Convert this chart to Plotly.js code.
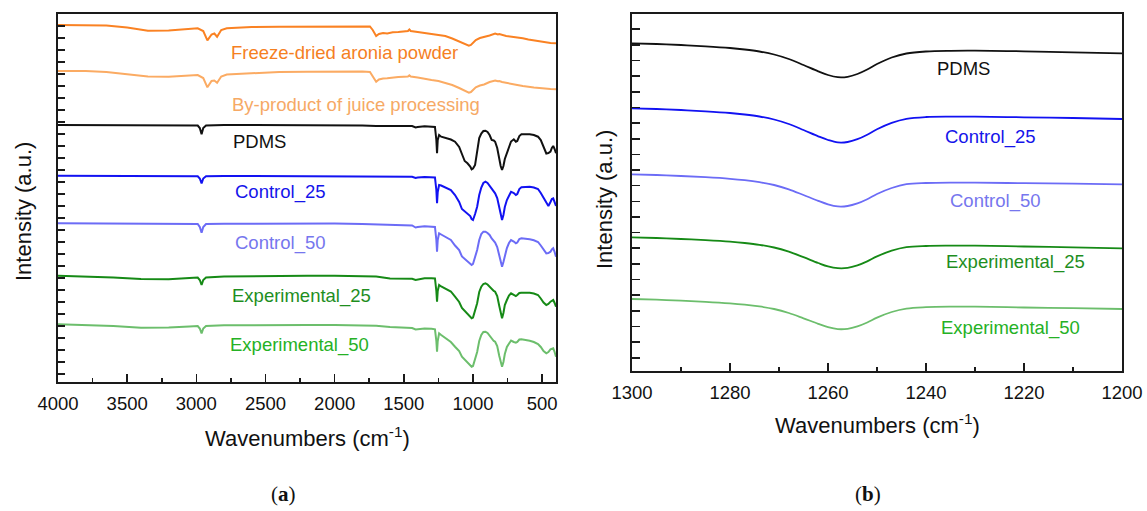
<!DOCTYPE html>
<html><head><meta charset="utf-8">
<script src="https://cdn.plot.ly/plotly-3.0.1.min.js"></script>
<style>html,body{margin:0;padding:0;background:#fff;} #chart{width:1147px;height:511px;}</style>
</head><body><div id="chart"></div>
<script>
// ---------- Panel (a): full FTIR spectra (intensity in arbitrary units, offset stacked) ----------
const wnSpectra = [4000, 3800, 3600, 3400, 3200, 3050, 2990, 2975, 2962, 2950, 2930, 2800, 2600, 2400, 2200, 2000, 1800, 1700, 1600, 1500, 1440, 1415, 1400, 1350, 1300, 1275, 1265, 1260, 1255, 1245, 1230, 1200, 1160, 1130, 1100, 1080, 1060, 1040, 1020, 1010, 1000, 985, 970, 955, 940, 925, 910, 895, 880, 865, 850, 840, 825, 810, 800, 790, 780, 770, 755, 740, 725, 705, 690, 680, 665, 650, 620, 590, 560, 530, 510, 490, 470, 455, 440, 430, 420, 410, 400];

const pdmsA = [257, 257, 257, 256.7, 256.7, 257, 256.5, 254, 247.7, 254,
  256.5, 257, 257, 257, 257, 256.7, 256.5, 256, 256, 256,
  256, 254.5, 255, 255.7, 255.3, 255, 242, 228.7, 242, 247,
  245.3, 244, 242.5, 240.3, 235, 228, 221, 218.7, 215.5, 212.7,
  213.5, 217, 232, 244, 248.5, 251, 251.3, 250, 247, 242,
  241.5, 240.3, 234, 222, 216, 212, 216, 223, 229, 236,
  240.5, 242.7, 240.3, 241, 246, 247.7, 248, 247.7, 247, 245.3,
  242, 235.3, 228.5, 229, 230.5, 234, 236, 233, 228.7];

const control25A = [206.3, 206.3, 206.3, 206, 206, 206, 205.7, 203.5, 198.7, 203.5,
  205.7, 206, 206, 206, 206, 206, 205.7, 205.5, 205.5, 205.3,
  205.3, 204, 204.5, 205, 204.7, 204.5, 192, 178.7, 190, 197,
  196.5, 194.7, 192, 187, 180, 173, 170.5, 168.7, 166, 163,
  162, 168, 175.3, 187, 194.5, 199, 200.3, 199, 196.5, 193,
  190.5, 188.7, 184, 174, 167, 162, 167, 175, 182, 187,
  190.3, 189, 187, 188, 193, 194.7, 195.3, 195.3, 194.5, 193,
  189, 184, 178.7, 176, 180, 183, 183.7, 180, 176];

const control50A = [158.7, 158.5, 158.5, 158.3, 158.3, 158.5, 158, 155, 149.3, 155,
  158, 158.3, 158.5, 158.5, 158.5, 158.5, 158, 157.7, 157.5, 157,
  156.5, 154.5, 155, 155.7, 155.5, 155, 142, 130.3, 142, 148.7,
  147.5, 145.3, 142, 136.5, 132, 125.5, 123, 121, 119, 117,
  118, 124, 132, 142, 148, 150.3, 150.3, 149, 147, 143.5,
  141, 139.5, 135, 125, 118.5, 115.3, 120, 127, 134, 139,
  142, 140.5, 138.7, 139.5, 143, 143.7, 143.3, 142.7, 141.7, 140,
  136.5, 132, 128.7, 129, 130.3, 132.5, 133.7, 130, 125.3];

const exp25A = [106.3, 105.7, 104.5, 103, 102.7, 104, 104.5, 102, 97, 102,
  104.5, 105.5, 106, 106.3, 106.3, 106.3, 106, 105.5, 103.5, 103.5,
  103.2, 102, 102.5, 103.7, 103.7, 103.5, 91, 80.3, 91, 97,
  95.5, 93.7, 90.5, 85.3, 80, 74, 71, 68.5, 66, 63.7,
  64.5, 71, 78.7, 90, 95.3, 98, 98.7, 97.5, 95.3, 92.5,
  91, 90.3, 86, 76, 69, 63.7, 69, 77, 82, 86.5,
  88.7, 87, 86, 87, 89, 89.3, 89.3, 89.3, 88.5, 87,
  83.5, 79.5, 77, 78, 80.3, 81.5, 82, 79, 75.3];

const exp50A = [57.7, 57, 56, 54.3, 54.5, 55.5, 56, 53.5, 48.7, 53.5,
  56, 56.7, 57, 57, 57, 57, 56.7, 56.3, 55, 54.5,
  54, 52.5, 52.7, 53.5, 53.3, 52.7, 41, 30.3, 41, 48.7,
  47, 43.7, 40, 35.3, 31, 25.3, 22.5, 20, 17.5, 15.3,
  16, 22, 30, 41, 47, 50, 50.3, 49, 46, 43,
  41, 40.3, 36, 26, 20, 15.3, 20, 28, 35, 38.5,
  41.5, 40, 39.3, 40, 42.5, 42.7, 42.2, 41.3, 40, 38,
  35, 31, 28.7, 30, 32.7, 33.5, 33.7, 30, 25.3];

const wnAronia = [4000, 3800, 3650, 3500, 3350, 3200, 3050, 2990, 2950, 2920, 2890, 2870, 2850, 2820, 2780, 2600, 2400, 2200, 2000, 1800, 1745, 1725, 1700, 1680, 1650, 1620, 1580, 1540, 1500, 1470, 1460, 1450, 1400, 1350, 1300, 1250, 1200, 1150, 1100, 1060, 1030, 1015, 1000, 980, 950, 920, 880, 840, 820, 810, 790, 760, 720, 680, 640, 600, 560, 520, 480, 440, 400];

const freezeDried = [357, 357, 356.5, 354.5, 351.3, 351.5, 353.3, 353.7, 351, 341.7,
  347.5, 348.5, 345.3, 352, 353.7, 355, 355.3, 355.3, 355.7, 356,
  355.5, 352, 346, 348, 349, 348.5, 349.7, 350, 350.7, 351,
  352.5, 351, 350, 348.7, 348, 347, 346, 343.5, 340.3, 338,
  336.3, 337, 339, 342, 344, 345, 346.5, 348.5, 347.5, 348,
  347, 346, 345.3, 344.7, 343.7, 342.5, 341.5, 340.5, 339.7, 339,
  338.7];

const byProduct = [311, 311, 310, 308, 305.5, 305.3, 306.7, 307, 304, 294.7,
  301, 301.5, 299.3, 305.5, 307.5, 309, 310, 310.3, 310.5, 310.5,
  310, 306, 300.3, 302.5, 303.5, 303.7, 304.5, 305, 305.3, 305.5,
  306.7, 305.5, 304.5, 303, 302, 301, 299.3, 297, 294, 291,
  289.3, 290, 292, 294.7, 296.5, 297.5, 300, 301.5, 300.7, 301,
  300, 299, 298, 297, 296, 295, 294.5, 294, 293.3, 293,
  292.7];

// ---------- Panel (b): 1300-1200 cm-1 detail ----------
const wnZoom = [1300, 1295, 1290, 1285, 1280, 1277, 1274, 1271, 1268, 1265, 1262, 1260, 1258, 1256, 1254, 1252, 1250, 1247, 1244, 1240, 1235, 1230, 1220, 1210, 1200];
const pdmsB = [327.7, 327, 326, 324.7, 323, 321.5, 319.5, 316.5, 312, 306, 299.7, 296, 293.8, 294.2, 297, 301.5, 307, 313.5, 317.5, 319.5, 320.2, 320.3, 319.7, 318.7, 317.7];
const control25B = [262.7, 262, 261, 259.7, 258, 256.5, 254.5, 251.5, 247, 241, 234.7, 231, 228.6, 229, 231.8, 236.3, 241.8, 248.2, 252.2, 254, 254.4, 254.3, 253.7, 253, 252];
const control50B = [196.7, 196, 195, 193.8, 192.2, 190.8, 188.8, 186, 181.7, 176, 170.2, 166.7, 164.6, 165, 167.6, 171.8, 177, 183, 186.8, 188, 188.4, 188.3, 187.8, 187.3, 186.7];
const exp25B = [133.7, 133, 132, 130.8, 129.3, 128, 126.2, 123.5, 119.3, 113.8, 108, 104.6, 102.8, 103.1, 105.6, 109.6, 114.6, 120.3, 123.8, 125, 125.3, 125.3, 124.5, 123.7, 122.7];
const exp50B = [72, 71.3, 70.3, 69.2, 67.7, 66.4, 64.6, 62, 58, 52.7, 47.2, 43.9, 41.9, 42.2, 44.6, 48.5, 53.4, 59, 62.4, 63.8, 64.3, 64.3, 63.5, 62.8, 62];

const seriesNames = ["Freeze-dried aronia powder", "By-product of juice processing", "PDMS", "Control_25", "Control_50", "Experimental_25", "Experimental_50"];
const tickValsA = [4000, 3500, 3000, 2500, 2000, 1500, 1000, 500];
const tickTextA = ["4000", "3500", "3000", "2500", "2000", "1500", "1000", "500"];
const tickValsB = [1300, 1280, 1260, 1240, 1220, 1200];
const tickTextB = ["1300", "1280", "1260", "1240", "1220", "1200"];

// ---------- styling ----------
const W = 1147, H = 511;
const px = x => x / W;
const py = y => 1 - y / H;
const FONT = "Liberation Sans, Arial, Helvetica, sans-serif";
const lineCol = {
  aronia: "#FA8223", byp: "#FBAB63", pdms: "#111111", c25: "#1212F2",
  c50: "#6C6CF6", e25: "#168A16", e50: "#6CBE6C"
};
const txtCol = {
  aronia: "#F5801F", byp: "#F6A965", pdms: "#111111", c25: "#1414EA",
  c50: "#7676EE", e25: "#1E8E1E", e50: "#25B125"
};

function tr(x, y, color, name, xa, ya, w) {
  return {x: x, y: y, type: "scatter", mode: "lines", name: name, xaxis: xa, yaxis: ya,
    line: {color: color, width: w, shape: xa === "x2" ? "spline" : "linear", smoothing: 1.0},
    hoverinfo: "x+name"};
}
const traces = [
  tr(wnAronia, freezeDried, lineCol.aronia, seriesNames[0], "x", "y", 2),
  tr(wnAronia, byProduct, lineCol.byp, seriesNames[1], "x", "y", 2),
  tr(wnSpectra, pdmsA, lineCol.pdms, seriesNames[2], "x", "y", 2),
  tr(wnSpectra, control25A, lineCol.c25, seriesNames[3], "x", "y", 2),
  tr(wnSpectra, control50A, lineCol.c50, seriesNames[4], "x", "y", 2),
  tr(wnSpectra, exp25A, lineCol.e25, seriesNames[5], "x", "y", 2),
  tr(wnSpectra, exp50A, lineCol.e50, seriesNames[6], "x", "y", 2),
  tr(wnZoom, pdmsB, lineCol.pdms, seriesNames[2], "x2", "y2", 1.8),
  tr(wnZoom, control25B, lineCol.c25, seriesNames[3], "x2", "y2", 1.8),
  tr(wnZoom, control50B, lineCol.c50, seriesNames[4], "x2", "y2", 1.8),
  tr(wnZoom, exp25B, lineCol.e25, seriesNames[5], "x2", "y2", 1.8),
  tr(wnZoom, exp50B, lineCol.e50, seriesNames[6], "x2", "y2", 1.8)
];

const axCommon = {
  showgrid: false, zeroline: false, showline: true, mirror: true,
  linecolor: "#1a1a1a", ticks: "inside", tickcolor: "#1a1a1a", tickwidth: 1.6,
  tickfont: {family: FONT, size: 18.5, color: "#111"}, automargin: false, fixedrange: true
};

const layout = {
  width: W, height: H, margin: {l: 0, r: 0, t: 0, b: 0},
  paper_bgcolor: "#fff", plot_bgcolor: "#fff", showlegend: false,
  xaxis: Object.assign({}, axCommon, {
    domain: [px(58), px(556)], range: [4000, 400], anchor: "y",
    tickmode: "array", tickvals: tickValsA, ticktext: tickTextA, ticklen: 8, linewidth: 2,
    ticklabelstandoff: 4,
    minor: {dtick: 250, tick0: 0, ticklen: 4, ticks: "inside", tickcolor: "#1a1a1a", tickwidth: 1.6}
  }),
  yaxis: Object.assign({}, axCommon, {
    domain: [py(382), py(14)], range: [0, 368], anchor: "x",
    tick0: 8, dtick: 12.01, ticklen: 6.5, showticklabels: false, linewidth: 2
  }),
  xaxis2: Object.assign({}, axCommon, {
    domain: [px(632), px(1122)], range: [1300, 1200], anchor: "y2",
    tickmode: "array", tickvals: tickValsB, ticktext: tickTextB, ticklen: 8, linewidth: 1.8,
    ticklabelstandoff: 4,
    minor: {dtick: 10, tick0: 0, ticklen: 4.5, ticks: "inside", tickcolor: "#1a1a1a", tickwidth: 1.6}
  }),
  yaxis2: Object.assign({}, axCommon, {
    domain: [py(371), py(14)], range: [0, 357], anchor: "x2",
    tick0: 13.3, dtick: 15.64, ticklen: 7.5, showticklabels: false, linewidth: 1.8
  }),
  annotations: []
};

function lab(text, x, y, color, size, extra) {
  return Object.assign({text: text, x: px(x), y: py(y), xref: "paper", yref: "paper",
    xanchor: "left", yanchor: "middle", showarrow: false,
    font: {family: FONT, size: size || 18.5, color: color}}, extra || {});
}
const A = layout.annotations;
// panel (a) series labels
A.push(lab(seriesNames[0], 229, 52.5, txtCol.aronia));
A.push(lab(seriesNames[1], 230, 105, txtCol.byp));
A.push(lab(seriesNames[2], 231, 141.7, txtCol.pdms));
A.push(lab(seriesNames[3], 233, 191.5, txtCol.c25));
A.push(lab(seriesNames[4], 233, 243.3, txtCol.c50));
A.push(lab(seriesNames[5], 230, 295.7, txtCol.e25));
A.push(lab(seriesNames[6], 228, 344.5, txtCol.e50));
// panel (b) series labels
A.push(lab(seriesNames[2], 935, 69, txtCol.pdms));
A.push(lab(seriesNames[3], 943, 136.7, txtCol.c25));
A.push(lab(seriesNames[4], 948, 201, txtCol.c50));
A.push(lab(seriesNames[5], 944, 262.3, txtCol.e25));
A.push(lab(seriesNames[6], 939, 328.3, txtCol.e50));
// axis titles
const xTitle = "Wavenumbers (cm<sup>-1</sup>)";
const yTitle = "Intensity (a.u.)";
A.push(lab(xTitle, 307, 437, "#111", 22, {xanchor: "center"}));
A.push(lab(xTitle, 877, 424, "#111", 22, {xanchor: "center"}));
A.push(lab(yTitle, 23, 212, "#111", 22, {xanchor: "center", textangle: -90}));
A.push(lab(yTitle, 604, 200, "#111", 22, {xanchor: "center", textangle: -90}));
// panel letters
A.push({text: "(<b>a</b>)", x: px(283), y: py(494), xref: "paper", yref: "paper", xanchor: "center", yanchor: "middle",
  showarrow: false, font: {family: "Liberation Serif, Times New Roman, serif", size: 21, color: "#111"}});
A.push({text: "(<b>b</b>)", x: px(868), y: py(494), xref: "paper", yref: "paper", xanchor: "center", yanchor: "middle",
  showarrow: false, font: {family: "Liberation Serif, Times New Roman, serif", size: 21, color: "#111"}});

Plotly.newPlot("chart", traces, layout, {displayModeBar: false, staticPlot: true});
</script></body></html>
